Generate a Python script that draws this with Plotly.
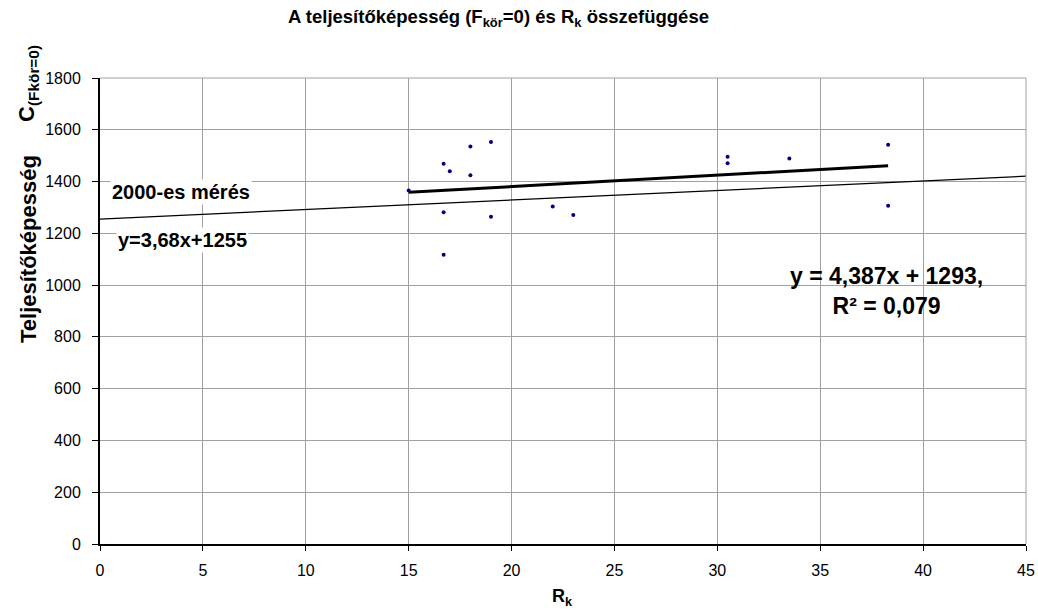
import plotly.graph_objects as go

# Data
rk = [15.0, 16.7, 17.0, 18.0, 19.0, 18.0, 16.7, 19.0, 22.0, 23.0, 16.7, 30.5, 30.5, 33.5, 38.3, 38.3]
c_val = [1365, 1469, 1440, 1535, 1553, 1424, 1281, 1264, 1304, 1271, 1117, 1496, 1471, 1489, 1542, 1307]

# Trendline of current measurement
trend_slope = 4.387
trend_intercept = 1293
# Reference line of 2000 measurement
ref_slope = 3.68
ref_intercept = 1255

x_ticks = [0, 5, 10, 15, 20, 25, 30, 35, 40, 45]
y_ticks = [0, 200, 400, 600, 800, 1000, 1200, 1400, 1600, 1800]

FONT = "Liberation Sans, Arial, sans-serif"

PL, PR, PT, PB = 100, 1026, 78, 544  # plot area in page pixels
FW, FH = 1038, 614


def px(x):
    return (x - PL) / (PR - PL)


def py(y):
    return (PB - y) / (PB - PT)


fig = go.Figure()

rx = [x_ticks[0], x_ticks[-1]]
fig.add_trace(go.Scatter(
    x=rx, y=[ref_slope * v + ref_intercept for v in rx],
    mode="lines", line=dict(color="black", width=1.2), hoverinfo="skip", showlegend=False))

tx = [min(rk), max(rk)]
fig.add_trace(go.Scatter(
    x=tx, y=[trend_slope * v + trend_intercept for v in tx],
    mode="lines", line=dict(color="black", width=3), hoverinfo="skip", showlegend=False))

fig.add_trace(go.Scatter(
    x=rk, y=c_val, mode="markers",
    marker=dict(color="#000080", size=4), showlegend=False))

fig.update_layout(
    width=FW, height=FH,
    margin=dict(l=PL, r=FW - PR, t=PT, b=FH - PB, pad=0),
    paper_bgcolor="white", plot_bgcolor="white",
    font=dict(family=FONT, color="black", size=16),
    showlegend=False,
    xaxis=dict(range=[0, 45], tickvals=x_ticks, ticktext=[str(v) for v in x_ticks],
               showgrid=True, gridcolor="#a0a0a0", gridwidth=1, automargin=False,
               zeroline=False, showline=True, linecolor="black", linewidth=2,
               ticks="outside", ticklen=5, tickcolor="black", ticklabelstandoff=6,
               tickfont=dict(size=16)),
    yaxis=dict(range=[0, 1800], tickvals=y_ticks, ticktext=[str(v) for v in y_ticks],
               showgrid=True, gridcolor="#a0a0a0", gridwidth=1, automargin=False,
               zeroline=False, showline=True, linecolor="black", linewidth=2,
               ticks="outside", ticklen=6, tickcolor="black", ticklabelstandoff=8,
               tickfont=dict(size=16)),
)

fig.add_shape(type="line", xref="paper", yref="paper", x0=0, x1=1, y0=1, y1=1,
              line=dict(color="#a0a0a0", width=1))
fig.add_shape(type="line", xref="paper", yref="paper", x0=1, x1=1, y0=0, y1=1,
              line=dict(color="#a0a0a0", width=1))

annots = [
    dict(x=498, y=18,
         text="<b>A teljesítőképesség (F<sub>kör</sub>=0) és R<sub>k</sub> összefüggése</b>",
         size=18.5),
    dict(x=562, y=597, text="<b>R<sub>k</sub></b>", size=18),
    dict(x=28, y=249, text="<b>Teljesítőképesség</b>", angle=-90, size=22),
    dict(x=28, y=84, text="<b>C<sub>(Fkör=0)</sub></b>", angle=-90, size=22),
]
for a in annots:
    fig.add_annotation(x=px(a["x"]), y=py(a["y"]), xref="paper", yref="paper",
                       text=a["text"], showarrow=False, textangle=a.get("angle", 0),
                       font=dict(family=FONT, color="black", size=a["size"]),
                       xanchor="center", yanchor="middle")

fig.add_annotation(x=0.5, y=1361, xref="x", yref="y", text="<b>2000-es mérés</b>",
                   showarrow=False, xanchor="left", yanchor="middle", bgcolor="white",
                   font=dict(family=FONT, size=20, color="black"))
fig.add_annotation(x=0.8, y=1176, xref="x", yref="y", text="<b>y=3,68x+1255</b>",
                   showarrow=False, xanchor="left", yanchor="middle", bgcolor="white",
                   font=dict(family=FONT, size=20, color="black"))
fig.add_annotation(x=px(886), y=py(291), xref="paper", yref="paper",
                   text="<b>y = 4,387x + 1293,<br>R² = 0,079</b>",
                   showarrow=False, xanchor="center", yanchor="middle",
                   font=dict(family=FONT, size=23, color="black"))

fig.write_html("out.html", config={"displayModeBar": False},
               post_script="document.body.style.margin='0px';document.body.style.overflow='hidden';")
